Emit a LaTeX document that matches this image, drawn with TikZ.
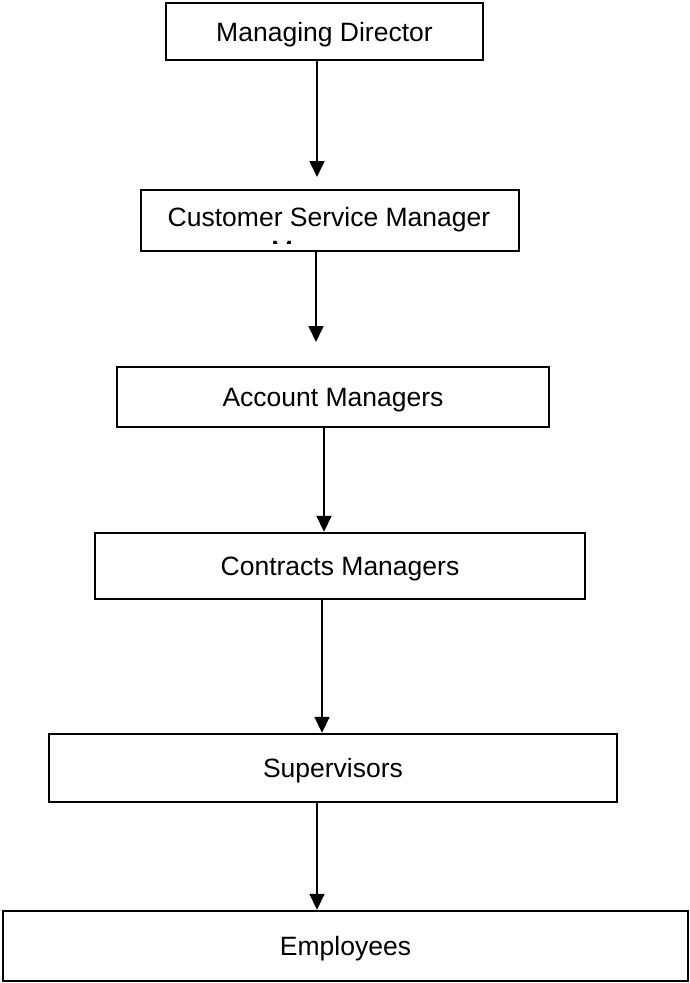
\documentclass[tikz,border=0pt]{standalone}
\usepackage{fontspec}
\setmainfont{Liberation Sans}
\usetikzlibrary{arrows.meta}
\begin{document}
\begin{tikzpicture}[x=1pt,y=-1pt,
  lbl/.style={font=\fontsize{26.5}{31}\selectfont},
  box/.style={lbl,draw=black,line width=2.4pt,fill=white,inner sep=0pt,
    text height=19pt,text depth=0pt},
  arr/.style={draw=black,line width=1.7pt,-{Triangle[width=15pt,length=16pt]}}]
\useasboundingbox[fill=white] (0,0) rectangle (689,983);

% boxes of the chart, top to bottom
\node[box,minimum width=317pt,minimum height=57pt] (md)  at (324.5,31.5) {Managing Director};
\node[box,minimum width=378pt,minimum height=61pt] (csm) at (330,220.5) {};
\node[lbl,anchor=base,inner sep=0pt] (csmt) at (329,226) {Customer Service Manager};
\begin{scope}
  \clip (143,239) rectangle (517,243.5);
  \node[lbl,anchor=base west,inner sep=0pt] (csmx) at (271,259) {Manager};
\end{scope}
\node[box,minimum width=432pt,minimum height=60pt] (am)  at (333,397) {Account Managers};
\node[box,minimum width=490pt,minimum height=66pt] (cm)  at (340,566) {Contracts Managers};
\node[box,minimum width=568pt,minimum height=68pt] (sup) at (333,768) {Supervisors};
\node[box,minimum width=685pt,minimum height=70pt] (emp) at (345.5,946) {Employees};

% connector columns and tips
\coordinate (x1) at (317,0);
\coordinate (x2) at (316,0);
\coordinate (x3) at (324,0);
\coordinate (x4) at (322,0);
\coordinate (x5) at (317,0);
\coordinate (t1) at (317,177);
\coordinate (t2) at (316,342);

\draw[arr] (x1 |- md.south) -- (t1);
\draw[arr] (x2 |- csm.south) -- (t2);
\draw[arr] (x3 |- am.south) -- (x3 |- cm.north);
\draw[arr] (x4 |- cm.south) -- (x4 |- sup.north);
\draw[arr] (x5 |- sup.south) -- (x5 |- emp.north);
\end{tikzpicture}
\end{document}
